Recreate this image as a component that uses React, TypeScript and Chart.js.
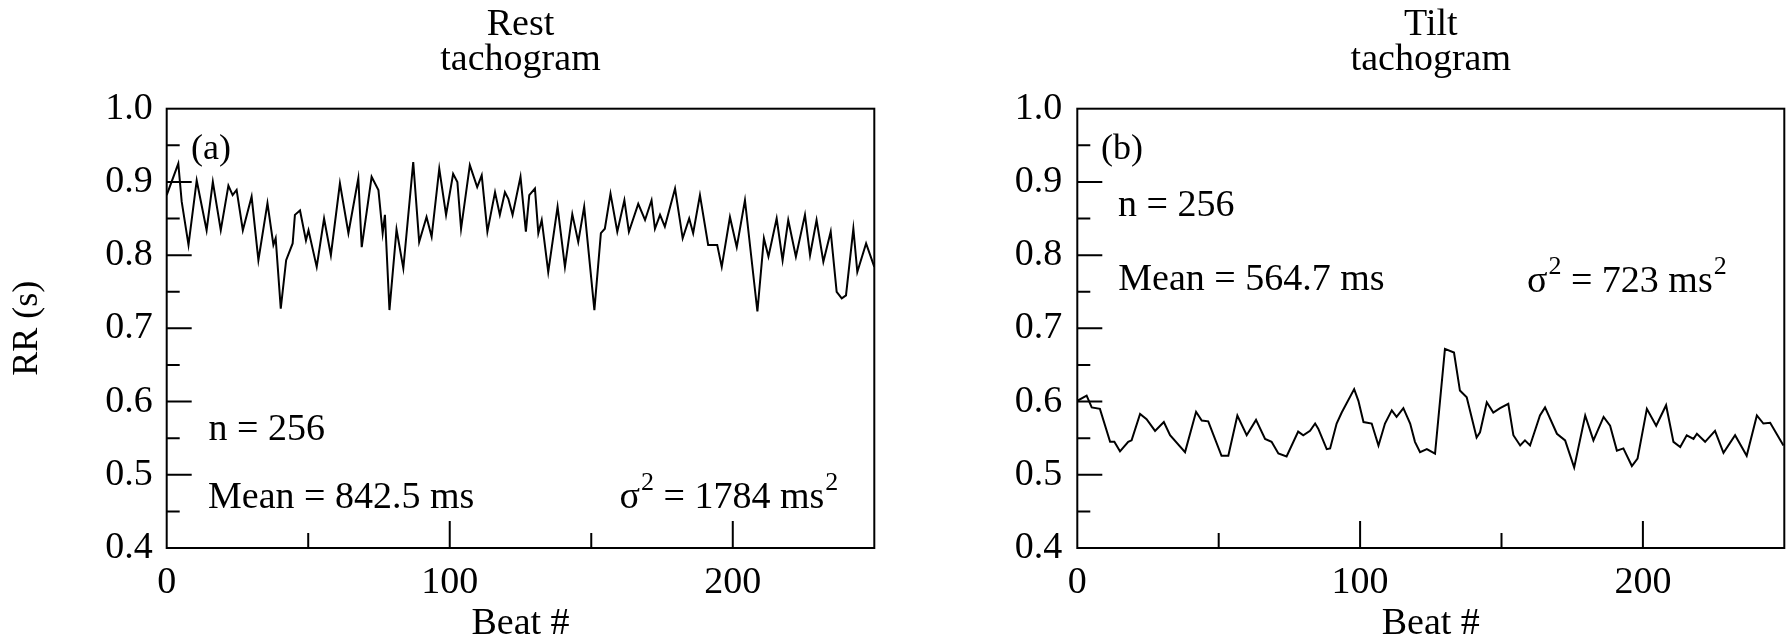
import React, { useEffect, useRef } from "react";
import { Chart, registerables } from "chart.js";

Chart.register(...registerables);

// ---------------- data ----------------
const restBeats = [
  0, 4.1, 5.3, 7.7, 10.6, 14.1, 16.3, 19.1, 21.8, 23.3, 24.7, 26.9, 30.0, 32.4, 35.6, 37.7, 38.5, 40.3,
  42.2, 44.5, 45.3, 47.1, 49.2, 50.1, 53.0, 55.6, 58.0, 61.2, 64.2, 67.7, 68.9, 72.4, 74.8, 76.3, 77.1,
  78.7, 81.2, 83.6, 87.1, 89.2, 91.8, 93.6, 96.3, 98.7, 101.2, 102.7, 104.0, 107.1, 109.7, 111.3, 113.3,
  116.0, 117.7, 119.5, 120.7, 122.2, 125.0, 126.9, 128.1, 130.1, 131.3, 132.5, 134.8, 138.1, 140.7,
  143.3, 145.4, 147.5, 151.1, 153.4, 154.8, 156.8, 159.2, 161.7, 163.3, 166.6, 169.0, 171.3, 172.5,
  174.3, 176.0, 179.6, 182.3, 184.6, 186.0, 188.4, 191.3, 194.5, 196.1, 199.0, 201.4, 204.3, 208.7,
  211.0, 212.6, 215.5, 217.6, 219.6, 222.3, 225.5, 227.3, 229.6, 232.0, 234.6, 236.7, 238.5, 240.0,
  242.6, 244.0, 247.1, 250.0,
];
const restRR = [
  0.882, 0.925, 0.873, 0.814, 0.902, 0.834, 0.9, 0.834, 0.895, 0.882, 0.889, 0.834, 0.88, 0.793, 0.871,
  0.814, 0.823, 0.727, 0.793, 0.816, 0.855, 0.861, 0.82, 0.834, 0.784, 0.85, 0.8, 0.898, 0.83, 0.905,
  0.811, 0.907, 0.889, 0.83, 0.855, 0.725, 0.835, 0.782, 0.927, 0.818, 0.852, 0.825, 0.918, 0.855,
  0.911, 0.9, 0.836, 0.923, 0.893, 0.909, 0.832, 0.886, 0.855, 0.886, 0.877, 0.855, 0.907, 0.832,
  0.882, 0.891, 0.83, 0.848, 0.777, 0.866, 0.784, 0.856, 0.818, 0.866, 0.725, 0.83, 0.836, 0.884,
  0.832, 0.875, 0.832, 0.87, 0.848, 0.875, 0.836, 0.855, 0.839, 0.891, 0.823, 0.85, 0.83, 0.882,
  0.814, 0.814, 0.784, 0.852, 0.811, 0.875, 0.723, 0.823, 0.798, 0.85, 0.793, 0.848, 0.798, 0.855,
  0.8, 0.848, 0.791, 0.832, 0.75, 0.741, 0.745, 0.836, 0.777, 0.816, 0.784,
];
const tiltBeats = [
  0, 3.3, 5.1, 8.0, 11.6, 13.1, 15.1, 18.0, 19.2, 22.2, 24.5, 27.5, 30.6, 32.8, 38.1, 42.0, 44.0, 46.3,
  51.0, 53.4, 56.6, 59.9, 63.2, 66.4, 68.7, 71.1, 74.0, 78.1, 79.9, 82.3, 84.1, 85.2, 88.2, 89.4, 91.7,
  93.5, 97.9, 99.4, 101.2, 104.1, 106.5, 108.8, 111.2, 112.9, 115.3, 117.7, 119.4, 121.2, 123.6, 126.5,
  130.0, 133.2, 135.3, 137.7, 141.2, 142.4, 144.8, 147.1, 149.5, 152.4, 154.2, 156.6, 158.3, 160.1,
  163.6, 165.4, 169.6, 172.5, 175.7, 179.6, 182.5, 186.1, 188.4, 190.8, 193.1, 196.1, 198.1, 201.4,
  204.7, 208.2, 210.8, 213.2, 215.5, 217.9, 219.1, 222.0, 225.5, 228.5, 232.6, 236.7, 240.3, 242.6,
  245.0, 249.7,
];
const tiltRR = [
  0.601, 0.608, 0.592, 0.59, 0.545, 0.545, 0.532, 0.545, 0.547, 0.583, 0.576, 0.56, 0.572, 0.554, 0.531,
  0.586, 0.574, 0.573, 0.526, 0.526, 0.581, 0.554, 0.575, 0.549, 0.545, 0.529, 0.525, 0.559, 0.554,
  0.56, 0.57, 0.563, 0.535, 0.536, 0.57, 0.585, 0.617, 0.601, 0.572, 0.57, 0.54, 0.57, 0.588, 0.579,
  0.591, 0.57, 0.545, 0.531, 0.535, 0.529, 0.672, 0.667, 0.615, 0.606, 0.551, 0.558, 0.599, 0.585,
  0.591, 0.597, 0.554, 0.54, 0.547, 0.54, 0.581, 0.592, 0.556, 0.547, 0.51, 0.581, 0.547, 0.579,
  0.567, 0.533, 0.536, 0.512, 0.522, 0.59, 0.567, 0.595, 0.545, 0.538, 0.554, 0.549, 0.556, 0.545,
  0.56, 0.53, 0.554, 0.526, 0.581, 0.57, 0.571, 0.54,
];

const xTickValues = [0, 100, 200];
const xMajorMarks = [100, 200];
const xMinorMarks = [50, 150];
const yTickValues = [0.4, 0.5, 0.6, 0.7, 0.8, 0.9, 1.0];
const yMajorMarks = [0.5, 0.6, 0.7, 0.8, 0.9];
const yMinorMarks = [0.45, 0.55, 0.65, 0.75, 0.85, 0.95];

const restTitle = ["Rest", "tachogram"];
const tiltTitle = ["Tilt", "tachogram"];
const restLetter = "(a)";
const tiltLetter = "(b)";
const nText = "n = 256";
const restMeanText = "Mean = 842.5 ms";
const tiltMeanText = "Mean = 564.7 ms";
const restVarText = " = 1784 ms";
const tiltVarText = " = 723 ms";
const xTitle = "Beat #";
const yTitle = "RR (s)";

const FONT = '"Liberation Serif", "Times New Roman", serif';

type Panel = {
  beats: number[];
  rr: number[];
  title: string[];
  letter: string;
  meanText: string;
  varText: string;
  showYTitle: boolean;
  canvasLeft: number;
  canvasWidth: number;
  yAxisWidth: number;
  rightPad: number;
  yTickPad: number;
  // annotation anchor positions in data coordinates
  letterAt: [number, number];
  nAt: [number, number];
  meanAt: [number, number];
  varAt: [number, number];
};

const panels: Panel[] = [
  {
    beats: restBeats,
    rr: restRR,
    title: restTitle,
    letter: restLetter,
    meanText: restMeanText,
    varText: restVarText,
    showYTitle: true,
    canvasLeft: 0,
    canvasWidth: 894,
    yAxisWidth: 166.7,
    rightPad: 19.7,
    yTickPad: 14,
    letterAt: [8.6, 0.931],
    nAt: [14.8, 0.547],
    meanAt: [14.6, 0.455],
    varAt: [160, 0.455],
  },
  {
    beats: tiltBeats,
    rr: tiltRR,
    title: tiltTitle,
    letter: tiltLetter,
    meanText: tiltMeanText,
    varText: tiltVarText,
    showYTitle: false,
    canvasLeft: 894,
    canvasWidth: 895,
    yAxisWidth: 183.3,
    rightPad: 4.7,
    yTickPad: 15,
    letterAt: [8.4, 0.931],
    nAt: [14.4, 0.854],
    meanAt: [14.5, 0.753],
    varAt: [159, 0.75],
  },
];

const H = 643;
const PLOT_TOP = 108.7;
const PLOT_BOTTOM = 548;

function makeDecor(p: Panel) {
  return {
    id: "decor",
    afterDraw(chart: any) {
      const { ctx, chartArea: a, scales } = chart;
      const x = scales.x;
      const y = scales.y;
      ctx.save();
      ctx.strokeStyle = "#000";
      ctx.lineWidth = 2;
      ctx.strokeRect(a.left, a.top, a.right - a.left, a.bottom - a.top);
      ctx.beginPath();
      yMajorMarks.forEach((v) => {
        const py = y.getPixelForValue(v);
        ctx.moveTo(a.left, py);
        ctx.lineTo(a.left + 25, py);
      });
      yMinorMarks.forEach((v) => {
        const py = y.getPixelForValue(v);
        ctx.moveTo(a.left, py);
        ctx.lineTo(a.left + 13, py);
      });
      xMajorMarks.forEach((v) => {
        const px = x.getPixelForValue(v);
        ctx.moveTo(px, a.bottom);
        ctx.lineTo(px, a.bottom - 27);
      });
      xMinorMarks.forEach((v) => {
        const px = x.getPixelForValue(v);
        ctx.moveTo(px, a.bottom);
        ctx.lineTo(px, a.bottom - 15);
      });
      ctx.stroke();

      ctx.fillStyle = "#000";
      ctx.textBaseline = "alphabetic";
      ctx.font = `38px ${FONT}`;
      ctx.textAlign = "center";
      const cx = (a.left + a.right) / 2;
      ctx.fillText(p.title[0], cx, 35);
      ctx.fillText(p.title[1], cx, 70);

      ctx.textAlign = "left";
      ctx.font = `36px ${FONT}`;
      ctx.fillText(p.letter, x.getPixelForValue(p.letterAt[0]), y.getPixelForValue(p.letterAt[1]));
      ctx.font = `38px ${FONT}`;
      ctx.fillText(nText, x.getPixelForValue(p.nAt[0]), y.getPixelForValue(p.nAt[1]));
      ctx.fillText(p.meanText, x.getPixelForValue(p.meanAt[0]), y.getPixelForValue(p.meanAt[1]));

      // sigma^2 = ... ms^2
      let vx = x.getPixelForValue(p.varAt[0]);
      const vy = y.getPixelForValue(p.varAt[1]);
      ctx.font = `38px ${FONT}`;
      ctx.fillText("σ", vx, vy);
      vx += ctx.measureText("σ").width + 1;
      ctx.font = `26px ${FONT}`;
      ctx.fillText("2", vx, vy - 18);
      vx += ctx.measureText("2").width;
      ctx.font = `38px ${FONT}`;
      ctx.fillText(p.varText, vx, vy);
      vx += ctx.measureText(p.varText).width + 1;
      ctx.font = `26px ${FONT}`;
      ctx.fillText("2", vx, vy - 18);
      ctx.restore();
    },
  };
}

function PanelChart({ p }: { p: Panel }) {
  const ref = useRef<HTMLCanvasElement | null>(null);
  useEffect(() => {
    if (!ref.current) return;
    const points = p.beats.map((b, i) => ({ x: b, y: p.rr[i] }));
    const chart = new Chart(ref.current, {
      type: "line",
      data: {
        datasets: [
          {
            data: points,
            borderColor: "#000",
            borderWidth: 2,
            pointRadius: 0,
            tension: 0,
            fill: false,
          },
        ],
      },
      options: {
        responsive: false,
        animation: false,
        devicePixelRatio: 1,
        layout: { padding: { left: 0, right: p.rightPad, top: PLOT_TOP, bottom: 0 } },
        plugins: { legend: { display: false }, tooltip: { enabled: false }, title: { display: false } },
        scales: {
          x: {
            type: "linear",
            min: 0,
            max: 250,
            grid: { display: false, drawTicks: false },
            border: { display: false },
            afterBuildTicks: (s: any) => {
              s.ticks = xTickValues.map((v) => ({ value: v }));
            },
            afterFit: (s: any) => {
              s.height = H - PLOT_BOTTOM;
            },
            ticks: {
              color: "#000",
              padding: 12,
              maxRotation: 0,
              autoSkip: false,
              font: { family: FONT, size: 38 },
              callback: (v: any) => String(v),
            },
            title: {
              display: true,
              text: xTitle,
              color: "#000",
              font: { family: FONT, size: 38, lineHeight: 1.0 },
              padding: { top: 0, bottom: 0 },
            },
          },
          y: {
            type: "linear",
            min: 0.4,
            max: 1.0,
            grid: { display: false, drawTicks: false },
            border: { display: false },
            afterBuildTicks: (s: any) => {
              s.ticks = yTickValues.map((v) => ({ value: v }));
            },
            afterFit: (s: any) => {
              s.width = p.yAxisWidth;
            },
            ticks: {
              color: "#000",
              padding: p.yTickPad,
              autoSkip: false,
              font: { family: FONT, size: 38 },
              callback: (v: any) => Number(v).toFixed(1),
            },
            title: {
              display: p.showYTitle,
              text: yTitle,
              color: "#000",
              font: { family: FONT, size: 36, lineHeight: 1.0 },
              padding: { top: 9.5, bottom: 0 },
            },
          },
        },
      },
      plugins: [makeDecor(p)],
    } as any);
    return () => chart.destroy();
  }, [p]);
  return (
    <canvas
      ref={ref}
      width={p.canvasWidth}
      height={H}
      style={{ position: "absolute", left: p.canvasLeft, top: 0, width: p.canvasWidth, height: H }}
    />
  );
}

export default function App() {
  return (
    <div style={{ position: "absolute", left: 0, top: 0, width: 1789, height: H, background: "#fff" }}>
      {panels.map((p, i) => (
        <PanelChart key={i} p={p} />
      ))}
    </div>
  );
}
